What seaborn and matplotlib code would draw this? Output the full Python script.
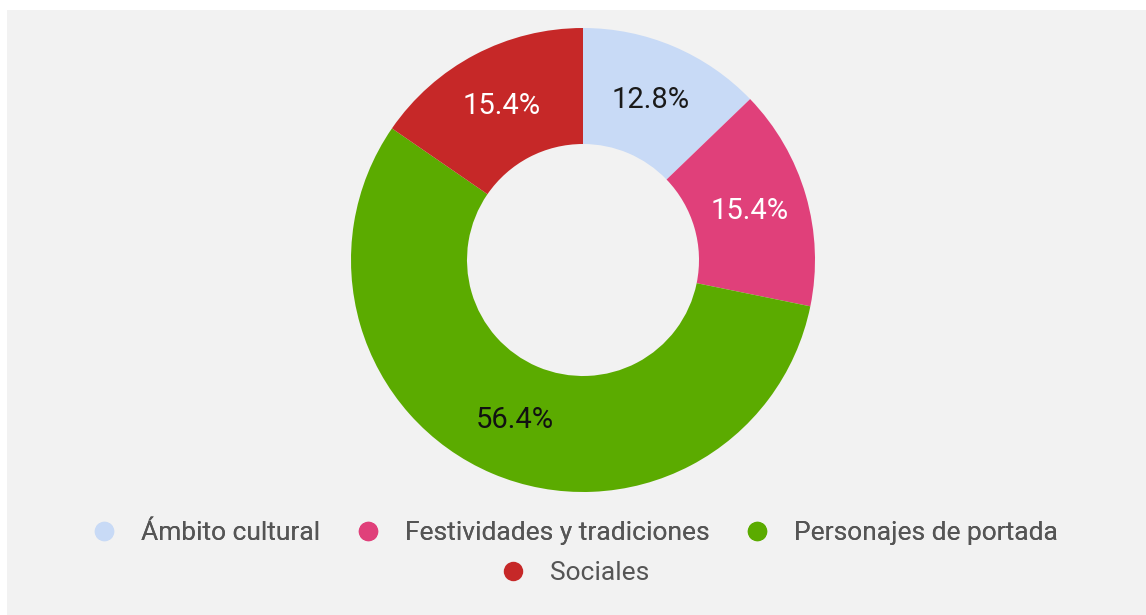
import matplotlib
matplotlib.use("Agg")
import matplotlib.pyplot as plt
from matplotlib.lines import Line2D
from matplotlib.patches import Rectangle
import seaborn as sns

categories = ["Ámbito cultural", "Festividades y tradiciones", "Personajes de portada", "Sociales"]
values = [12.8, 15.4, 56.4, 15.4]
label_colors = ["#1a1a1a", "white", "#111111", "white"]
palette = ["#c8daf6", "#e0407a", "#5bab00", "#c62828"]

sns.set_theme(style="white")
plt.rcParams['font.family'] = ['Roboto', 'DejaVu Sans']

fig = plt.figure(figsize=(11.46, 6.15), dpi=100, facecolor="white")
# light gray panel behind the chart
fig.patches.append(Rectangle((7 / 1146, 0), 1 - 7 / 1146, 1 - 10 / 615,
                             transform=fig.transFigure, facecolor="#f2f2f2",
                             edgecolor="none", zorder=-10))

ax = fig.add_axes([351 / 1146, 123 / 615, 464 / 1146, 464 / 615])
ax.set_zorder(5)
ax.set_facecolor("none")
colors = sns.color_palette(palette)

wedges, texts, autotexts = ax.pie(values, colors=colors, startangle=90, counterclock=False,
                                  radius=1, wedgeprops=dict(width=0.5, edgecolor="none"),
                                  autopct="%.1f%%", pctdistance=0.75,
                                  textprops=dict(fontsize=21))
for t, c in zip(autotexts, label_colors):
    t.set_color(c)
ax.set_xlim(-1, 1)
ax.set_ylim(-1, 1)
ax.set_aspect("equal")
ax.axis("off")

handles = [Line2D([0], [0], marker="o", linestyle="none", markersize=14,
                  markerfacecolor=c, markeredgecolor="none") for c in colors]

leg1 = fig.legend(handles[:3], categories[:3], loc="center", ncol=3,
                  bbox_to_anchor=(0.5, 1 - 533 / 615), frameon=False,
                  fontsize=19, handletextpad=0.8, columnspacing=1.2,
                  handlelength=1.2, labelcolor="#555555")
fig.add_artist(leg1)
fig.legend(handles[3:], categories[3:], loc="center", ncol=1,
           bbox_to_anchor=(0.5, 1 - 573 / 615), frameon=False,
           fontsize=19, handletextpad=0.8, handlelength=1.2,
           labelcolor="#555555")

plt.savefig("out.png", dpi=100, facecolor=fig.get_facecolor())
